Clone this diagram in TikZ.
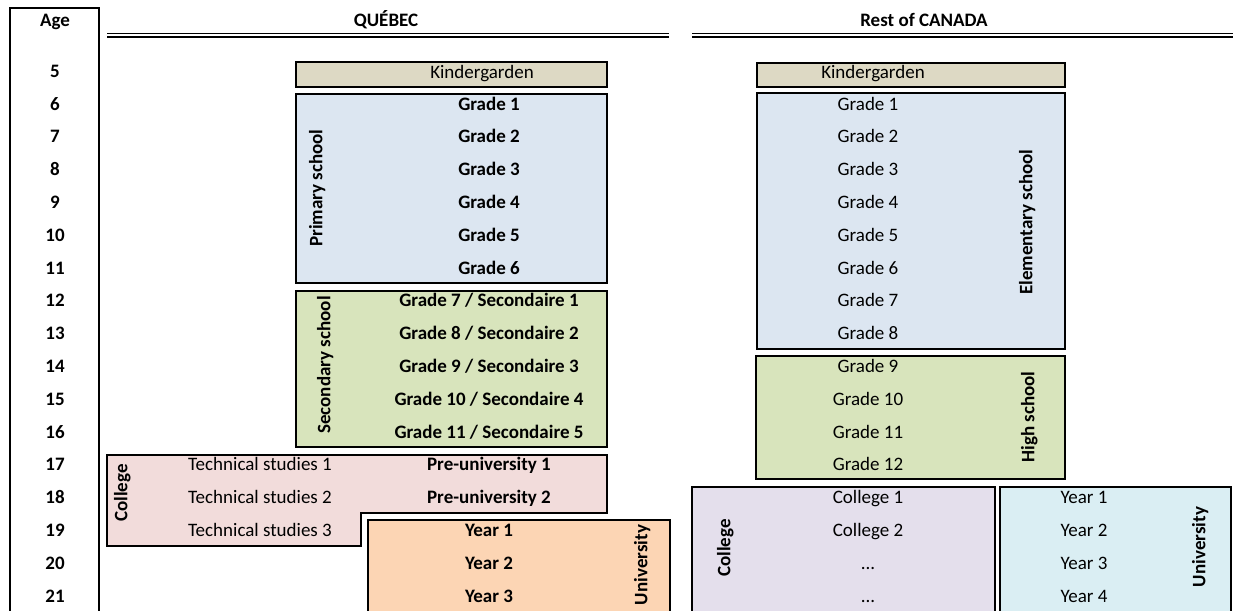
\documentclass[tikz,border=0pt]{standalone}
\usepackage{fontspec}
\setmainfont{Carlito}
\usetikzlibrary{positioning}

\definecolor{kinderfill}{HTML}{DDD9C4}
\definecolor{primfill}{HTML}{DCE6F1}
\definecolor{secfill}{HTML}{D8E4BC}
\definecolor{colqfill}{HTML}{F2DCDB}
\definecolor{uniqfill}{HTML}{FCD5B4}
\definecolor{colrfill}{HTML}{E4DFEC}
\definecolor{unirfill}{HTML}{DAEEF3}

\begin{document}
\begin{tikzpicture}[
     x = 1pt, y = -1pt, % pixel grid, y goes down
     node distance = 32.8pt, % one school year
     line join = miter
 ]

 \tikzstyle{box} = [
     draw = black,
     line width = 1.8pt
 ]
 \tikzstyle{plain} = [
     font = \fontsize{19}{22}\selectfont,
     text height = 12pt,
     text depth = 3.5pt,
     inner sep = 0pt
 ]
 \tikzstyle{strong} = [
     plain,
     font = \fontsize{19}{22}\selectfont\bfseries
 ]
 \tikzstyle{side} = [
     strong,
     rotate = 90
 ]
 \tikzstyle{hline} = [
     double,
     line width = 1.6pt,
     double distance = 1.8pt
 ]

 \fill[white] (0,0) rectangle (1233,610);
 \useasboundingbox (0,0) rectangle (1233,610);
 \clip (0,0) rectangle (1233,610);

 % age column
 \draw[line width = 1.5pt] (10,8) rectangle (99,625);
 \node[strong] (agehead) at (55,22) {Age};
 \foreach \a in {5,...,21}
     \node[strong] (age\a) at (55,{73+(\a-5)*32.8}) {\a};

 % headings
 \node[strong] (quebec) at (386,22) {QUÉBEC};
 \node[strong] (canada) at (924,22) {Rest of CANADA};
 \draw[hline] (107,35.4) -- (669,35.4);
 \draw[hline] (692,35.4) -- (1240,35.4);

 % Quebec boxes
 \draw[box, fill = kinderfill] (296,62) rectangle (607,87);
 \draw[box, fill = primfill] (296,94) rectangle (607,283);
 \draw[box, fill = secfill] (296,291) rectangle (607,447);
 \draw[box, fill = colqfill] (107,455) -- (607,455) -- (607,513)
     -- (361,513) -- (361,546) -- (107,546) -- cycle;
 \draw[box, fill = uniqfill] (368,520) rectangle (670,625);

 % Rest of Canada boxes
 \draw[box, fill = kinderfill] (757,63) rectangle (1065,87);
 \draw[box, fill = primfill] (757,93) rectangle (1065,349);
 \draw[box, fill = secfill] (756,356) rectangle (1065,479);
 \draw[box, fill = colrfill] (692,487) rectangle (995,625);
 \draw[box, fill = unirfill] (1000,487) rectangle (1231,625);

 % Quebec texts
 \node[plain] (qkinder) at (482,74.5) {Kindergarden};
 \node[strong] (qg1) at (489,105.8) {Grade 1};
 \node[strong] (qg2) [below of=qg1] {Grade 2};
 \node[strong] (qg3) [below of=qg2] {Grade 3};
 \node[strong] (qg4) [below of=qg3] {Grade 4};
 \node[strong] (qg5) [below of=qg4] {Grade 5};
 \node[strong] (qg6) [below of=qg5] {Grade 6};
 \node[strong] (qs1) [below of=qg6] {Grade 7 / Secondaire 1};
 \node[strong] (qs2) [below of=qs1] {Grade 8 / Secondaire 2};
 \node[strong] (qs3) [below of=qs2] {Grade 9 / Secondaire 3};
 \node[strong] (qs4) [below of=qs3] {Grade 10 / Secondaire 4};
 \node[strong] (qs5) [below of=qs4] {Grade 11 / Secondaire 5};
 \node[strong] (qpre1) [below of=qs5] {Pre-university 1};
 \node[strong] (qpre2) [below of=qpre1] {Pre-university 2};
 \node[strong] (qy1) [below of=qpre2] {Year 1};
 \node[strong] (qy2) [below of=qy1] {Year 2};
 \node[strong] (qy3) [below of=qy2] {Year 3};
 \node[plain] (qt1) at (260,466.6) {Technical studies 1};
 \node[plain] (qt2) [below of=qt1] {Technical studies 2};
 \node[plain] (qt3) [below of=qt2] {Technical studies 3};

 \node[side] (qprim) at (318,188) {Primary school};
 \node[side] (qsec) at (326,365) {Secondary school};
 \node[side] (qcol) at (123,493) {College};
 \node[side] (quni) at (643,565) {University};

 % Rest of Canada texts
 \node[plain] (rkinder) at (873,74.5) {Kindergarden};
 \node[plain] (rg1) at (868,105.8) {Grade 1};
 \node[plain] (rg2) [below of=rg1] {Grade 2};
 \node[plain] (rg3) [below of=rg2] {Grade 3};
 \node[plain] (rg4) [below of=rg3] {Grade 4};
 \node[plain] (rg5) [below of=rg4] {Grade 5};
 \node[plain] (rg6) [below of=rg5] {Grade 6};
 \node[plain] (rg7) [below of=rg6] {Grade 7};
 \node[plain] (rg8) [below of=rg7] {Grade 8};
 \node[plain] (rg9) [below of=rg8] {Grade 9};
 \node[plain] (rg10) [below of=rg9] {Grade 10};
 \node[plain] (rg11) [below of=rg10] {Grade 11};
 \node[plain] (rg12) [below of=rg11] {Grade 12};
 \node[plain] (rc1) [below of=rg12] {College 1};
 \node[plain] (rc2) [below of=rc1] {College 2};
 \node[plain] (rc3) [below of=rc2] {...};
 \node[plain] (rc4) [below of=rc3] {...};
 \node[plain] (ry1) at (1084,499.4) {Year 1};
 \node[plain] (ry2) [below of=ry1] {Year 2};
 \node[plain] (ry3) [below of=ry2] {Year 3};
 \node[plain] (ry4) [below of=ry3] {Year 4};

 \node[side] (relem) at (1028,222) {Elementary school};
 \node[side] (rhigh) at (1030,417) {High school};
 \node[side] (rcol) at (726,548) {College};
 \node[side] (runi) at (1201,547) {University};
\end{tikzpicture}
\end{document}
